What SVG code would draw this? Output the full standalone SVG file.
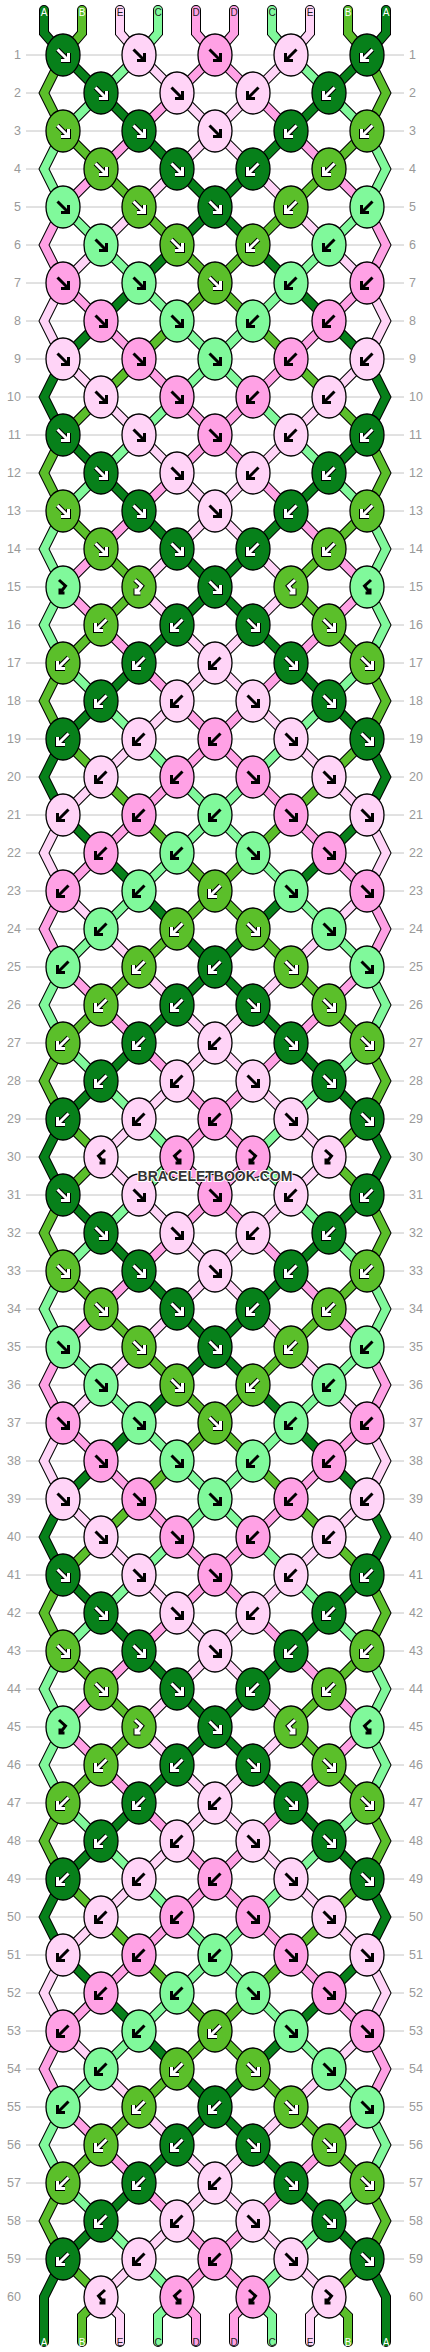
<svg xmlns="http://www.w3.org/2000/svg" xmlns:xlink="http://www.w3.org/1999/xlink" width="430" height="2352" viewBox="0 0 430 2352">
<style>
.o{fill:none;stroke:#000;stroke-width:10;stroke-linecap:round;stroke-linejoin:miter}
.sa{fill:none;stroke:#07801a;stroke-width:8;stroke-linecap:round}
.sb{fill:none;stroke:#5bbf2a;stroke-width:8;stroke-linecap:round}
.sc{fill:none;stroke:#80f99b;stroke-width:8;stroke-linecap:round}
.sd{fill:none;stroke:#ffa1e5;stroke-width:8;stroke-linecap:round}
.se{fill:none;stroke:#ffd4f7;stroke-width:8;stroke-linecap:round}
.eA{fill:#07801a;stroke:#000;stroke-width:1.3}
.eB{fill:#5bbf2a;stroke:#000;stroke-width:1.3}
.eC{fill:#80f99b;stroke:#000;stroke-width:1.3}
.eD{fill:#ffa1e5;stroke:#000;stroke-width:1.3}
.eE{fill:#ffd4f7;stroke:#000;stroke-width:1.3}
.ak{fill:none;stroke:#000;stroke-width:3}
.ao{fill:none;stroke:#000;stroke-width:5}
.aw{fill:none;stroke:#fff;stroke-width:3}
.num{font-family:"Liberation Sans",Arial,sans-serif;font-size:12.5px;fill:#999}
.lab{font-family:"Liberation Sans",Arial,sans-serif;font-size:10px;text-anchor:middle}
</style>
<defs>
<path id="pf" d="M-5.5-5.5L5 5M-2 5.5H5.5V-2"/>
<path id="pb" d="M5.5-5.5L-5 5M2 5.5H-5.5V-2"/>
<path id="pfb" d="M-4-7L2.5-1L-3 6M-3 1.5V6H1.5"/>
<path id="pbf" d="M4-7L-2.5-1L3 6M3 1.5V6H-1.5"/>
<g id="Af"><ellipse class="eA" rx="17" ry="21"/><use href="#pf" class="ao"/><use href="#pf" class="aw"/></g>
<g id="Ab"><ellipse class="eA" rx="17" ry="21"/><use href="#pb" class="ao"/><use href="#pb" class="aw"/></g>
<g id="Bf"><ellipse class="eB" rx="17" ry="21"/><use href="#pf" class="ao"/><use href="#pf" class="aw"/></g>
<g id="Bb"><ellipse class="eB" rx="17" ry="21"/><use href="#pb" class="ao"/><use href="#pb" class="aw"/></g>
<g id="Bfb"><ellipse class="eB" rx="17" ry="21"/><use href="#pfb" class="ao"/><use href="#pfb" class="aw"/></g>
<g id="Bbf"><ellipse class="eB" rx="17" ry="21"/><use href="#pbf" class="ao"/><use href="#pbf" class="aw"/></g>
<g id="Cf"><ellipse class="eC" rx="17" ry="21"/><use href="#pf" class="ak"/></g>
<g id="Cb"><ellipse class="eC" rx="17" ry="21"/><use href="#pb" class="ak"/></g>
<g id="Cfb"><ellipse class="eC" rx="17" ry="21"/><use href="#pfb" class="ak"/></g>
<g id="Cbf"><ellipse class="eC" rx="17" ry="21"/><use href="#pbf" class="ak"/></g>
<g id="Df"><ellipse class="eD" rx="17" ry="21"/><use href="#pf" class="ak"/></g>
<g id="Db"><ellipse class="eD" rx="17" ry="21"/><use href="#pb" class="ak"/></g>
<g id="Dfb"><ellipse class="eD" rx="17" ry="21"/><use href="#pfb" class="ak"/></g>
<g id="Dbf"><ellipse class="eD" rx="17" ry="21"/><use href="#pbf" class="ak"/></g>
<g id="Ef"><ellipse class="eE" rx="17" ry="21"/><use href="#pf" class="ak"/></g>
<g id="Eb"><ellipse class="eE" rx="17" ry="21"/><use href="#pb" class="ak"/></g>
<g id="Efb"><ellipse class="eE" rx="17" ry="21"/><use href="#pfb" class="ak"/></g>
<g id="Ebf"><ellipse class="eE" rx="17" ry="21"/><use href="#pbf" class="ak"/></g>
<path id="kA" d="M63 55L215 207L63 359L44 397L63 435L215 587L63 739L44 777L63 815L215 967L63 1119"/>
<path id="kB" d="M63 55L44 93L63 131L215 283L63 435L44 473L63 511L139 587L63 663L44 701L63 739L215 891L63 1043L44 1081L63 1119L101 1157"/>
<path id="kC" d="M139 55L63 131L44 169L63 207L215 359L63 511L44 549L63 587L44 625L63 663L215 815L63 967L44 1005L63 1043L177 1157"/>
<path id="kD" d="M215 55L63 207L44 245L63 283L215 435L63 587L215 739L63 891L44 929L63 967L215 1119L177 1157"/>
<path id="kE" d="M139 55L215 131L63 283L44 321L63 359L215 511L139 587L215 663L63 815L44 853L63 891L215 1043L101 1157"/>
<path id="xA" d="M44 10V33L63 55M63 1119L44 1157L63 1195M63 2259L44 2297V2342"/>
<path id="xB" d="M82 10V33L63 55M101 1157L63 1195M101 2297L82 2316V2342"/>
<path id="xC" d="M158 10V33L139 55M177 1157L139 1195M177 2297L158 2316V2342"/>
<path id="xD" d="M196 10V33L215 55M177 1157L215 1195M177 2297L196 2316V2342"/>
<path id="xE" d="M120 10V33L139 55M101 1157L139 1195M101 2297L120 2316V2342"/>
<g id="blk">
<use href="#kA" class="o"/><use href="#kB" class="o"/><use href="#kC" class="o"/><use href="#kD" class="o"/><use href="#kE" class="o"/>
<use href="#kA" class="sa"/><use href="#kB" class="sb"/><use href="#kC" class="sc"/><use href="#kD" class="sd"/><use href="#kE" class="se"/>
</g>
<g id="ext">
<use href="#xA" class="o"/><use href="#xB" class="o"/><use href="#xC" class="o"/><use href="#xD" class="o"/><use href="#xE" class="o"/>
<use href="#xA" class="sa"/><use href="#xB" class="sb"/><use href="#xC" class="sc"/><use href="#xD" class="sd"/><use href="#xE" class="se"/>
</g>
<g id="half"><use href="#blk"/><use href="#blk" transform="translate(0 1140)"/><use href="#ext"/></g>
</defs>
<rect width="430" height="2352" fill="#fff"/>
<path id="grid" fill="none" stroke="#c4c4c4" stroke-width="1" d="M26 55h378m-378 38h378m-378 38h378m-378 38h378m-378 38h378m-378 38h378m-378 38h378m-378 38h378m-378 38h378m-378 38h378m-378 38h378m-378 38h378m-378 38h378m-378 38h378m-378 38h378m-378 38h378m-378 38h378m-378 38h378m-378 38h378m-378 38h378m-378 38h378m-378 38h378m-378 38h378m-378 38h378m-378 38h378m-378 38h378m-378 38h378m-378 38h378m-378 38h378m-378 38h378m-378 38h378m-378 38h378m-378 38h378m-378 38h378m-378 38h378m-378 38h378m-378 38h378m-378 38h378m-378 38h378m-378 38h378m-378 38h378m-378 38h378m-378 38h378m-378 38h378m-378 38h378m-378 38h378m-378 38h378m-378 38h378m-378 38h378m-378 38h378m-378 38h378m-378 38h378m-378 38h378m-378 38h378m-378 38h378m-378 38h378m-378 38h378m-378 38h378m-378 38h378"/>
<g id="rownums" class="num">
<g text-anchor="end">
<text x="21" y="59">1</text><text x="21" y="97">2</text><text x="21" y="135">3</text><text x="21" y="173">4</text><text x="21" y="211">5</text><text x="21" y="249">6</text><text x="21" y="287">7</text><text x="21" y="325">8</text><text x="21" y="363">9</text><text x="21" y="401">10</text>
<text x="21" y="439">11</text><text x="21" y="477">12</text><text x="21" y="515">13</text><text x="21" y="553">14</text><text x="21" y="591">15</text><text x="21" y="629">16</text><text x="21" y="667">17</text><text x="21" y="705">18</text><text x="21" y="743">19</text><text x="21" y="781">20</text>
<text x="21" y="819">21</text><text x="21" y="857">22</text><text x="21" y="895">23</text><text x="21" y="933">24</text><text x="21" y="971">25</text><text x="21" y="1009">26</text><text x="21" y="1047">27</text><text x="21" y="1085">28</text><text x="21" y="1123">29</text><text x="21" y="1161">30</text>
<text x="21" y="1199">31</text><text x="21" y="1237">32</text><text x="21" y="1275">33</text><text x="21" y="1313">34</text><text x="21" y="1351">35</text><text x="21" y="1389">36</text><text x="21" y="1427">37</text><text x="21" y="1465">38</text><text x="21" y="1503">39</text><text x="21" y="1541">40</text>
<text x="21" y="1579">41</text><text x="21" y="1617">42</text><text x="21" y="1655">43</text><text x="21" y="1693">44</text><text x="21" y="1731">45</text><text x="21" y="1769">46</text><text x="21" y="1807">47</text><text x="21" y="1845">48</text><text x="21" y="1883">49</text><text x="21" y="1921">50</text>
<text x="21" y="1959">51</text><text x="21" y="1997">52</text><text x="21" y="2035">53</text><text x="21" y="2073">54</text><text x="21" y="2111">55</text><text x="21" y="2149">56</text><text x="21" y="2187">57</text><text x="21" y="2225">58</text><text x="21" y="2263">59</text><text x="21" y="2301">60</text>
</g>
<g text-anchor="start">
<text x="409" y="59">1</text><text x="409" y="97">2</text><text x="409" y="135">3</text><text x="409" y="173">4</text><text x="409" y="211">5</text><text x="409" y="249">6</text><text x="409" y="287">7</text><text x="409" y="325">8</text><text x="409" y="363">9</text><text x="409" y="401">10</text>
<text x="409" y="439">11</text><text x="409" y="477">12</text><text x="409" y="515">13</text><text x="409" y="553">14</text><text x="409" y="591">15</text><text x="409" y="629">16</text><text x="409" y="667">17</text><text x="409" y="705">18</text><text x="409" y="743">19</text><text x="409" y="781">20</text>
<text x="409" y="819">21</text><text x="409" y="857">22</text><text x="409" y="895">23</text><text x="409" y="933">24</text><text x="409" y="971">25</text><text x="409" y="1009">26</text><text x="409" y="1047">27</text><text x="409" y="1085">28</text><text x="409" y="1123">29</text><text x="409" y="1161">30</text>
<text x="409" y="1199">31</text><text x="409" y="1237">32</text><text x="409" y="1275">33</text><text x="409" y="1313">34</text><text x="409" y="1351">35</text><text x="409" y="1389">36</text><text x="409" y="1427">37</text><text x="409" y="1465">38</text><text x="409" y="1503">39</text><text x="409" y="1541">40</text>
<text x="409" y="1579">41</text><text x="409" y="1617">42</text><text x="409" y="1655">43</text><text x="409" y="1693">44</text><text x="409" y="1731">45</text><text x="409" y="1769">46</text><text x="409" y="1807">47</text><text x="409" y="1845">48</text><text x="409" y="1883">49</text><text x="409" y="1921">50</text>
<text x="409" y="1959">51</text><text x="409" y="1997">52</text><text x="409" y="2035">53</text><text x="409" y="2073">54</text><text x="409" y="2111">55</text><text x="409" y="2149">56</text><text x="409" y="2187">57</text><text x="409" y="2225">58</text><text x="409" y="2263">59</text><text x="409" y="2301">60</text>
</g>
</g>
<g id="connectors">
<use href="#half"/>
<use href="#half" transform="matrix(-1 0 0 1 430 0)"/>
</g>
<g id="labels" class="lab">
<text x="44" y="16" fill="#fff">A</text><text x="82" y="16" fill="#fff">B</text><text x="120" y="16" fill="#222">E</text><text x="158" y="16" fill="#222">C</text><text x="196" y="16" fill="#222">D</text><text x="234" y="16" fill="#222">D</text><text x="272" y="16" fill="#222">C</text><text x="310" y="16" fill="#222">E</text><text x="348" y="16" fill="#fff">B</text><text x="386" y="16" fill="#fff">A</text>
<text x="44" y="2346" fill="#fff">A</text><text x="82" y="2346" fill="#fff">B</text><text x="120" y="2346" fill="#222">E</text><text x="158" y="2346" fill="#222">C</text><text x="196" y="2346" fill="#222">D</text><text x="234" y="2346" fill="#222">D</text><text x="272" y="2346" fill="#222">C</text><text x="310" y="2346" fill="#222">E</text><text x="348" y="2346" fill="#fff">B</text><text x="386" y="2346" fill="#fff">A</text>
</g>
<g id="nodes">
<g id="n1-1" transform="translate(63 55)"><use href="#Af"/></g><g id="n1-2" transform="translate(139 55)"><use href="#Ef"/></g><g id="n1-3" transform="translate(215 55)"><use href="#Df"/></g><g id="n1-4" transform="translate(291 55)"><use href="#Eb"/></g><g id="n1-5" transform="translate(367 55)"><use href="#Ab"/></g>
<g id="n2-1" transform="translate(101 93)"><use href="#Af"/></g><g id="n2-2" transform="translate(177 93)"><use href="#Ef"/></g><g id="n2-3" transform="translate(253 93)"><use href="#Eb"/></g><g id="n2-4" transform="translate(329 93)"><use href="#Ab"/></g>
<g id="n3-1" transform="translate(63 131)"><use href="#Bf"/></g><g id="n3-2" transform="translate(139 131)"><use href="#Af"/></g><g id="n3-3" transform="translate(215 131)"><use href="#Ef"/></g><g id="n3-4" transform="translate(291 131)"><use href="#Ab"/></g><g id="n3-5" transform="translate(367 131)"><use href="#Bb"/></g>
<g id="n4-1" transform="translate(101 169)"><use href="#Bf"/></g><g id="n4-2" transform="translate(177 169)"><use href="#Af"/></g><g id="n4-3" transform="translate(253 169)"><use href="#Ab"/></g><g id="n4-4" transform="translate(329 169)"><use href="#Bb"/></g>
<g id="n5-1" transform="translate(63 207)"><use href="#Cf"/></g><g id="n5-2" transform="translate(139 207)"><use href="#Bf"/></g><g id="n5-3" transform="translate(215 207)"><use href="#Af"/></g><g id="n5-4" transform="translate(291 207)"><use href="#Bb"/></g><g id="n5-5" transform="translate(367 207)"><use href="#Cb"/></g>
<g id="n6-1" transform="translate(101 245)"><use href="#Cf"/></g><g id="n6-2" transform="translate(177 245)"><use href="#Bf"/></g><g id="n6-3" transform="translate(253 245)"><use href="#Bb"/></g><g id="n6-4" transform="translate(329 245)"><use href="#Cb"/></g>
<g id="n7-1" transform="translate(63 283)"><use href="#Df"/></g><g id="n7-2" transform="translate(139 283)"><use href="#Cf"/></g><g id="n7-3" transform="translate(215 283)"><use href="#Bf"/></g><g id="n7-4" transform="translate(291 283)"><use href="#Cb"/></g><g id="n7-5" transform="translate(367 283)"><use href="#Db"/></g>
<g id="n8-1" transform="translate(101 321)"><use href="#Df"/></g><g id="n8-2" transform="translate(177 321)"><use href="#Cf"/></g><g id="n8-3" transform="translate(253 321)"><use href="#Cb"/></g><g id="n8-4" transform="translate(329 321)"><use href="#Db"/></g>
<g id="n9-1" transform="translate(63 359)"><use href="#Ef"/></g><g id="n9-2" transform="translate(139 359)"><use href="#Df"/></g><g id="n9-3" transform="translate(215 359)"><use href="#Cf"/></g><g id="n9-4" transform="translate(291 359)"><use href="#Db"/></g><g id="n9-5" transform="translate(367 359)"><use href="#Eb"/></g>
<g id="n10-1" transform="translate(101 397)"><use href="#Ef"/></g><g id="n10-2" transform="translate(177 397)"><use href="#Df"/></g><g id="n10-3" transform="translate(253 397)"><use href="#Db"/></g><g id="n10-4" transform="translate(329 397)"><use href="#Eb"/></g>
<g id="n11-1" transform="translate(63 435)"><use href="#Af"/></g><g id="n11-2" transform="translate(139 435)"><use href="#Ef"/></g><g id="n11-3" transform="translate(215 435)"><use href="#Df"/></g><g id="n11-4" transform="translate(291 435)"><use href="#Eb"/></g><g id="n11-5" transform="translate(367 435)"><use href="#Ab"/></g>
<g id="n12-1" transform="translate(101 473)"><use href="#Af"/></g><g id="n12-2" transform="translate(177 473)"><use href="#Ef"/></g><g id="n12-3" transform="translate(253 473)"><use href="#Eb"/></g><g id="n12-4" transform="translate(329 473)"><use href="#Ab"/></g>
<g id="n13-1" transform="translate(63 511)"><use href="#Bf"/></g><g id="n13-2" transform="translate(139 511)"><use href="#Af"/></g><g id="n13-3" transform="translate(215 511)"><use href="#Ef"/></g><g id="n13-4" transform="translate(291 511)"><use href="#Ab"/></g><g id="n13-5" transform="translate(367 511)"><use href="#Bb"/></g>
<g id="n14-1" transform="translate(101 549)"><use href="#Bf"/></g><g id="n14-2" transform="translate(177 549)"><use href="#Af"/></g><g id="n14-3" transform="translate(253 549)"><use href="#Ab"/></g><g id="n14-4" transform="translate(329 549)"><use href="#Bb"/></g>
<g id="n15-1" transform="translate(63 587)"><use href="#Cfb"/></g><g id="n15-2" transform="translate(139 587)"><use href="#Bfb"/></g><g id="n15-3" transform="translate(215 587)"><use href="#Af"/></g><g id="n15-4" transform="translate(291 587)"><use href="#Bbf"/></g><g id="n15-5" transform="translate(367 587)"><use href="#Cbf"/></g>
<g id="n16-1" transform="translate(101 625)"><use href="#Bb"/></g><g id="n16-2" transform="translate(177 625)"><use href="#Ab"/></g><g id="n16-3" transform="translate(253 625)"><use href="#Af"/></g><g id="n16-4" transform="translate(329 625)"><use href="#Bf"/></g>
<g id="n17-1" transform="translate(63 663)"><use href="#Bb"/></g><g id="n17-2" transform="translate(139 663)"><use href="#Ab"/></g><g id="n17-3" transform="translate(215 663)"><use href="#Eb"/></g><g id="n17-4" transform="translate(291 663)"><use href="#Af"/></g><g id="n17-5" transform="translate(367 663)"><use href="#Bf"/></g>
<g id="n18-1" transform="translate(101 701)"><use href="#Ab"/></g><g id="n18-2" transform="translate(177 701)"><use href="#Eb"/></g><g id="n18-3" transform="translate(253 701)"><use href="#Ef"/></g><g id="n18-4" transform="translate(329 701)"><use href="#Af"/></g>
<g id="n19-1" transform="translate(63 739)"><use href="#Ab"/></g><g id="n19-2" transform="translate(139 739)"><use href="#Eb"/></g><g id="n19-3" transform="translate(215 739)"><use href="#Db"/></g><g id="n19-4" transform="translate(291 739)"><use href="#Ef"/></g><g id="n19-5" transform="translate(367 739)"><use href="#Af"/></g>
<g id="n20-1" transform="translate(101 777)"><use href="#Eb"/></g><g id="n20-2" transform="translate(177 777)"><use href="#Db"/></g><g id="n20-3" transform="translate(253 777)"><use href="#Df"/></g><g id="n20-4" transform="translate(329 777)"><use href="#Ef"/></g>
<g id="n21-1" transform="translate(63 815)"><use href="#Eb"/></g><g id="n21-2" transform="translate(139 815)"><use href="#Db"/></g><g id="n21-3" transform="translate(215 815)"><use href="#Cb"/></g><g id="n21-4" transform="translate(291 815)"><use href="#Df"/></g><g id="n21-5" transform="translate(367 815)"><use href="#Ef"/></g>
<g id="n22-1" transform="translate(101 853)"><use href="#Db"/></g><g id="n22-2" transform="translate(177 853)"><use href="#Cb"/></g><g id="n22-3" transform="translate(253 853)"><use href="#Cf"/></g><g id="n22-4" transform="translate(329 853)"><use href="#Df"/></g>
<g id="n23-1" transform="translate(63 891)"><use href="#Db"/></g><g id="n23-2" transform="translate(139 891)"><use href="#Cb"/></g><g id="n23-3" transform="translate(215 891)"><use href="#Bb"/></g><g id="n23-4" transform="translate(291 891)"><use href="#Cf"/></g><g id="n23-5" transform="translate(367 891)"><use href="#Df"/></g>
<g id="n24-1" transform="translate(101 929)"><use href="#Cb"/></g><g id="n24-2" transform="translate(177 929)"><use href="#Bb"/></g><g id="n24-3" transform="translate(253 929)"><use href="#Bf"/></g><g id="n24-4" transform="translate(329 929)"><use href="#Cf"/></g>
<g id="n25-1" transform="translate(63 967)"><use href="#Cb"/></g><g id="n25-2" transform="translate(139 967)"><use href="#Bb"/></g><g id="n25-3" transform="translate(215 967)"><use href="#Ab"/></g><g id="n25-4" transform="translate(291 967)"><use href="#Bf"/></g><g id="n25-5" transform="translate(367 967)"><use href="#Cf"/></g>
<g id="n26-1" transform="translate(101 1005)"><use href="#Bb"/></g><g id="n26-2" transform="translate(177 1005)"><use href="#Ab"/></g><g id="n26-3" transform="translate(253 1005)"><use href="#Af"/></g><g id="n26-4" transform="translate(329 1005)"><use href="#Bf"/></g>
<g id="n27-1" transform="translate(63 1043)"><use href="#Bb"/></g><g id="n27-2" transform="translate(139 1043)"><use href="#Ab"/></g><g id="n27-3" transform="translate(215 1043)"><use href="#Eb"/></g><g id="n27-4" transform="translate(291 1043)"><use href="#Af"/></g><g id="n27-5" transform="translate(367 1043)"><use href="#Bf"/></g>
<g id="n28-1" transform="translate(101 1081)"><use href="#Ab"/></g><g id="n28-2" transform="translate(177 1081)"><use href="#Eb"/></g><g id="n28-3" transform="translate(253 1081)"><use href="#Ef"/></g><g id="n28-4" transform="translate(329 1081)"><use href="#Af"/></g>
<g id="n29-1" transform="translate(63 1119)"><use href="#Ab"/></g><g id="n29-2" transform="translate(139 1119)"><use href="#Eb"/></g><g id="n29-3" transform="translate(215 1119)"><use href="#Db"/></g><g id="n29-4" transform="translate(291 1119)"><use href="#Ef"/></g><g id="n29-5" transform="translate(367 1119)"><use href="#Af"/></g>
<g id="n30-1" transform="translate(101 1157)"><use href="#Ebf"/></g><g id="n30-2" transform="translate(177 1157)"><use href="#Dbf"/></g><g id="n30-3" transform="translate(253 1157)"><use href="#Dfb"/></g><g id="n30-4" transform="translate(329 1157)"><use href="#Efb"/></g>
<g id="n31-1" transform="translate(63 1195)"><use href="#Af"/></g><g id="n31-2" transform="translate(139 1195)"><use href="#Ef"/></g><g id="n31-3" transform="translate(215 1195)"><use href="#Df"/></g><g id="n31-4" transform="translate(291 1195)"><use href="#Eb"/></g><g id="n31-5" transform="translate(367 1195)"><use href="#Ab"/></g>
<g id="n32-1" transform="translate(101 1233)"><use href="#Af"/></g><g id="n32-2" transform="translate(177 1233)"><use href="#Ef"/></g><g id="n32-3" transform="translate(253 1233)"><use href="#Eb"/></g><g id="n32-4" transform="translate(329 1233)"><use href="#Ab"/></g>
<g id="n33-1" transform="translate(63 1271)"><use href="#Bf"/></g><g id="n33-2" transform="translate(139 1271)"><use href="#Af"/></g><g id="n33-3" transform="translate(215 1271)"><use href="#Ef"/></g><g id="n33-4" transform="translate(291 1271)"><use href="#Ab"/></g><g id="n33-5" transform="translate(367 1271)"><use href="#Bb"/></g>
<g id="n34-1" transform="translate(101 1309)"><use href="#Bf"/></g><g id="n34-2" transform="translate(177 1309)"><use href="#Af"/></g><g id="n34-3" transform="translate(253 1309)"><use href="#Ab"/></g><g id="n34-4" transform="translate(329 1309)"><use href="#Bb"/></g>
<g id="n35-1" transform="translate(63 1347)"><use href="#Cf"/></g><g id="n35-2" transform="translate(139 1347)"><use href="#Bf"/></g><g id="n35-3" transform="translate(215 1347)"><use href="#Af"/></g><g id="n35-4" transform="translate(291 1347)"><use href="#Bb"/></g><g id="n35-5" transform="translate(367 1347)"><use href="#Cb"/></g>
<g id="n36-1" transform="translate(101 1385)"><use href="#Cf"/></g><g id="n36-2" transform="translate(177 1385)"><use href="#Bf"/></g><g id="n36-3" transform="translate(253 1385)"><use href="#Bb"/></g><g id="n36-4" transform="translate(329 1385)"><use href="#Cb"/></g>
<g id="n37-1" transform="translate(63 1423)"><use href="#Df"/></g><g id="n37-2" transform="translate(139 1423)"><use href="#Cf"/></g><g id="n37-3" transform="translate(215 1423)"><use href="#Bf"/></g><g id="n37-4" transform="translate(291 1423)"><use href="#Cb"/></g><g id="n37-5" transform="translate(367 1423)"><use href="#Db"/></g>
<g id="n38-1" transform="translate(101 1461)"><use href="#Df"/></g><g id="n38-2" transform="translate(177 1461)"><use href="#Cf"/></g><g id="n38-3" transform="translate(253 1461)"><use href="#Cb"/></g><g id="n38-4" transform="translate(329 1461)"><use href="#Db"/></g>
<g id="n39-1" transform="translate(63 1499)"><use href="#Ef"/></g><g id="n39-2" transform="translate(139 1499)"><use href="#Df"/></g><g id="n39-3" transform="translate(215 1499)"><use href="#Cf"/></g><g id="n39-4" transform="translate(291 1499)"><use href="#Db"/></g><g id="n39-5" transform="translate(367 1499)"><use href="#Eb"/></g>
<g id="n40-1" transform="translate(101 1537)"><use href="#Ef"/></g><g id="n40-2" transform="translate(177 1537)"><use href="#Df"/></g><g id="n40-3" transform="translate(253 1537)"><use href="#Db"/></g><g id="n40-4" transform="translate(329 1537)"><use href="#Eb"/></g>
<g id="n41-1" transform="translate(63 1575)"><use href="#Af"/></g><g id="n41-2" transform="translate(139 1575)"><use href="#Ef"/></g><g id="n41-3" transform="translate(215 1575)"><use href="#Df"/></g><g id="n41-4" transform="translate(291 1575)"><use href="#Eb"/></g><g id="n41-5" transform="translate(367 1575)"><use href="#Ab"/></g>
<g id="n42-1" transform="translate(101 1613)"><use href="#Af"/></g><g id="n42-2" transform="translate(177 1613)"><use href="#Ef"/></g><g id="n42-3" transform="translate(253 1613)"><use href="#Eb"/></g><g id="n42-4" transform="translate(329 1613)"><use href="#Ab"/></g>
<g id="n43-1" transform="translate(63 1651)"><use href="#Bf"/></g><g id="n43-2" transform="translate(139 1651)"><use href="#Af"/></g><g id="n43-3" transform="translate(215 1651)"><use href="#Ef"/></g><g id="n43-4" transform="translate(291 1651)"><use href="#Ab"/></g><g id="n43-5" transform="translate(367 1651)"><use href="#Bb"/></g>
<g id="n44-1" transform="translate(101 1689)"><use href="#Bf"/></g><g id="n44-2" transform="translate(177 1689)"><use href="#Af"/></g><g id="n44-3" transform="translate(253 1689)"><use href="#Ab"/></g><g id="n44-4" transform="translate(329 1689)"><use href="#Bb"/></g>
<g id="n45-1" transform="translate(63 1727)"><use href="#Cfb"/></g><g id="n45-2" transform="translate(139 1727)"><use href="#Bfb"/></g><g id="n45-3" transform="translate(215 1727)"><use href="#Af"/></g><g id="n45-4" transform="translate(291 1727)"><use href="#Bbf"/></g><g id="n45-5" transform="translate(367 1727)"><use href="#Cbf"/></g>
<g id="n46-1" transform="translate(101 1765)"><use href="#Bb"/></g><g id="n46-2" transform="translate(177 1765)"><use href="#Ab"/></g><g id="n46-3" transform="translate(253 1765)"><use href="#Af"/></g><g id="n46-4" transform="translate(329 1765)"><use href="#Bf"/></g>
<g id="n47-1" transform="translate(63 1803)"><use href="#Bb"/></g><g id="n47-2" transform="translate(139 1803)"><use href="#Ab"/></g><g id="n47-3" transform="translate(215 1803)"><use href="#Eb"/></g><g id="n47-4" transform="translate(291 1803)"><use href="#Af"/></g><g id="n47-5" transform="translate(367 1803)"><use href="#Bf"/></g>
<g id="n48-1" transform="translate(101 1841)"><use href="#Ab"/></g><g id="n48-2" transform="translate(177 1841)"><use href="#Eb"/></g><g id="n48-3" transform="translate(253 1841)"><use href="#Ef"/></g><g id="n48-4" transform="translate(329 1841)"><use href="#Af"/></g>
<g id="n49-1" transform="translate(63 1879)"><use href="#Ab"/></g><g id="n49-2" transform="translate(139 1879)"><use href="#Eb"/></g><g id="n49-3" transform="translate(215 1879)"><use href="#Db"/></g><g id="n49-4" transform="translate(291 1879)"><use href="#Ef"/></g><g id="n49-5" transform="translate(367 1879)"><use href="#Af"/></g>
<g id="n50-1" transform="translate(101 1917)"><use href="#Eb"/></g><g id="n50-2" transform="translate(177 1917)"><use href="#Db"/></g><g id="n50-3" transform="translate(253 1917)"><use href="#Df"/></g><g id="n50-4" transform="translate(329 1917)"><use href="#Ef"/></g>
<g id="n51-1" transform="translate(63 1955)"><use href="#Eb"/></g><g id="n51-2" transform="translate(139 1955)"><use href="#Db"/></g><g id="n51-3" transform="translate(215 1955)"><use href="#Cb"/></g><g id="n51-4" transform="translate(291 1955)"><use href="#Df"/></g><g id="n51-5" transform="translate(367 1955)"><use href="#Ef"/></g>
<g id="n52-1" transform="translate(101 1993)"><use href="#Db"/></g><g id="n52-2" transform="translate(177 1993)"><use href="#Cb"/></g><g id="n52-3" transform="translate(253 1993)"><use href="#Cf"/></g><g id="n52-4" transform="translate(329 1993)"><use href="#Df"/></g>
<g id="n53-1" transform="translate(63 2031)"><use href="#Db"/></g><g id="n53-2" transform="translate(139 2031)"><use href="#Cb"/></g><g id="n53-3" transform="translate(215 2031)"><use href="#Bb"/></g><g id="n53-4" transform="translate(291 2031)"><use href="#Cf"/></g><g id="n53-5" transform="translate(367 2031)"><use href="#Df"/></g>
<g id="n54-1" transform="translate(101 2069)"><use href="#Cb"/></g><g id="n54-2" transform="translate(177 2069)"><use href="#Bb"/></g><g id="n54-3" transform="translate(253 2069)"><use href="#Bf"/></g><g id="n54-4" transform="translate(329 2069)"><use href="#Cf"/></g>
<g id="n55-1" transform="translate(63 2107)"><use href="#Cb"/></g><g id="n55-2" transform="translate(139 2107)"><use href="#Bb"/></g><g id="n55-3" transform="translate(215 2107)"><use href="#Ab"/></g><g id="n55-4" transform="translate(291 2107)"><use href="#Bf"/></g><g id="n55-5" transform="translate(367 2107)"><use href="#Cf"/></g>
<g id="n56-1" transform="translate(101 2145)"><use href="#Bb"/></g><g id="n56-2" transform="translate(177 2145)"><use href="#Ab"/></g><g id="n56-3" transform="translate(253 2145)"><use href="#Af"/></g><g id="n56-4" transform="translate(329 2145)"><use href="#Bf"/></g>
<g id="n57-1" transform="translate(63 2183)"><use href="#Bb"/></g><g id="n57-2" transform="translate(139 2183)"><use href="#Ab"/></g><g id="n57-3" transform="translate(215 2183)"><use href="#Eb"/></g><g id="n57-4" transform="translate(291 2183)"><use href="#Af"/></g><g id="n57-5" transform="translate(367 2183)"><use href="#Bf"/></g>
<g id="n58-1" transform="translate(101 2221)"><use href="#Ab"/></g><g id="n58-2" transform="translate(177 2221)"><use href="#Eb"/></g><g id="n58-3" transform="translate(253 2221)"><use href="#Ef"/></g><g id="n58-4" transform="translate(329 2221)"><use href="#Af"/></g>
<g id="n59-1" transform="translate(63 2259)"><use href="#Ab"/></g><g id="n59-2" transform="translate(139 2259)"><use href="#Eb"/></g><g id="n59-3" transform="translate(215 2259)"><use href="#Db"/></g><g id="n59-4" transform="translate(291 2259)"><use href="#Ef"/></g><g id="n59-5" transform="translate(367 2259)"><use href="#Af"/></g>
<g id="n60-1" transform="translate(101 2297)"><use href="#Ebf"/></g><g id="n60-2" transform="translate(177 2297)"><use href="#Dbf"/></g><g id="n60-3" transform="translate(253 2297)"><use href="#Dfb"/></g><g id="n60-4" transform="translate(329 2297)"><use href="#Efb"/></g>
</g>
<text id="watermark" x="215" y="1181" text-anchor="middle" font-family="Liberation Sans, Arial, sans-serif" font-size="14" font-weight="bold" fill="#333" stroke="#fff" stroke-width="2" paint-order="stroke">BRACELETBOOK.COM</text>
</svg>
